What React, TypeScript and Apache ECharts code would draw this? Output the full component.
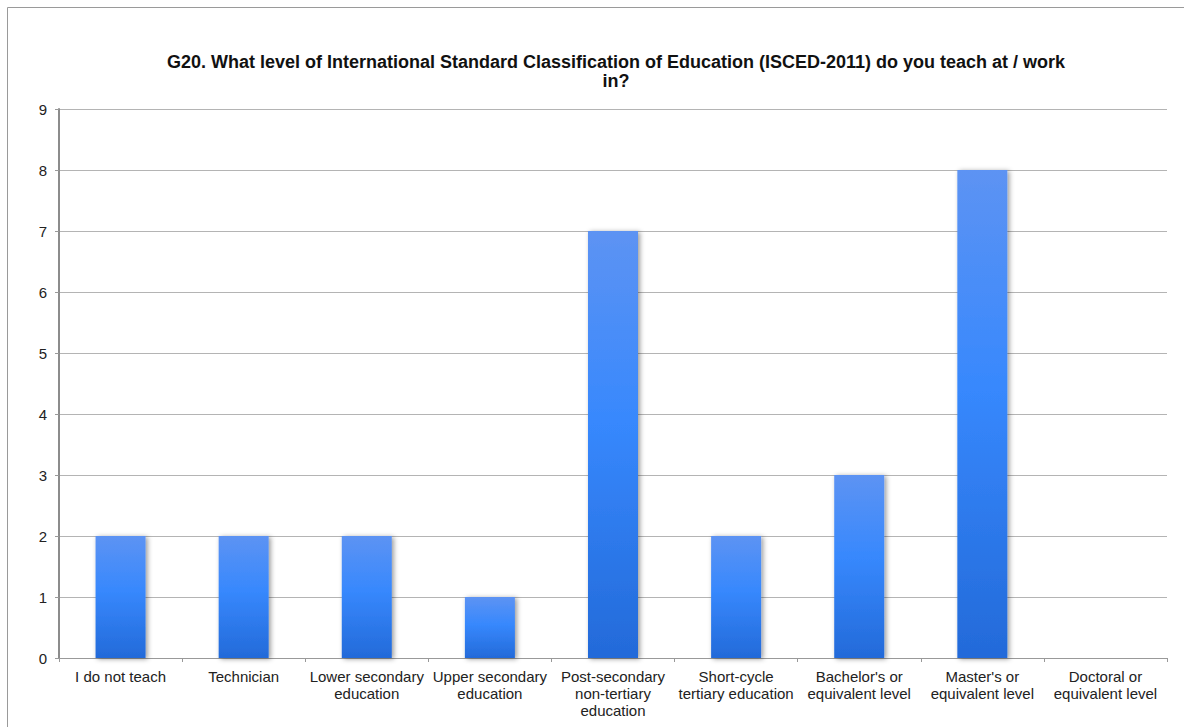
import React, { useEffect, useRef } from "react";
import * as echarts from "echarts";

// Survey question G20: respondents per ISCED-2011 level
const categories: string[] = [
  "I do not teach",
  "Technician",
  "Lower secondary\neducation",
  "Upper secondary\neducation",
  "Post-secondary\nnon-tertiary\neducation",
  "Short-cycle\ntertiary education",
  "Bachelor's or\nequivalent level",
  "Master's or\nequivalent level",
  "Doctoral or\nequivalent level",
];
const counts: number[] = [2, 2, 2, 1, 7, 2, 3, 8, 0];
const yTicks: number[] = [0, 1, 2, 3, 4, 5, 6, 7, 8, 9];

const titleText =
  "G20. What level of International Standard Classification of Education (ISCED-2011) do you teach at / work\nin?";

const FONT = "'Liberation Sans', Arial, sans-serif";

export default function App() {
  const ref = useRef<HTMLDivElement>(null);

  useEffect(() => {
    if (!ref.current) return;
    const chart = echarts.init(ref.current, undefined, { renderer: "svg" });
    const barGradient = new echarts.graphic.LinearGradient(0, 0, 0, 1, [
      { offset: 0, color: "#5d93f3" },
      { offset: 0.45, color: "#3788fd" },
      { offset: 1, color: "#236ad9" },
    ]);
    chart.setOption({
      animation: false,
      backgroundColor: "#ffffff",
      textStyle: { fontFamily: FONT },
      title: {
        text: titleText,
        left: 611,
        top: 47,
        textAlign: "center",
        textStyle: {
          fontFamily: FONT,
          fontSize: 18,
          fontWeight: "bold",
          color: "#111111",
          lineHeight: 19,
        },
      },
      graphic: [
        {
          type: "polyline",
          shape: {
            points: [
              [7.5, 740],
              [7.5, 7.5],
              [1200, 7.5],
            ],
          },
          style: { stroke: "#9a9a9a", lineWidth: 1, fill: "none" },
          silent: true,
        },
      ],
      grid: { left: 59, right: 17, top: 109, bottom: 69, containLabel: false },
      xAxis: {
        type: "category",
        data: categories,
        axisLine: { show: true, lineStyle: { color: "#999999", width: 1 } },
        axisTick: { show: true, length: 4, lineStyle: { color: "#999999" } },
        axisLabel: {
          interval: 0,
          margin: 10,
          fontFamily: FONT,
          fontSize: 15,
          lineHeight: 17,
          color: "#222222",
        },
        splitLine: { show: false },
      },
      yAxis: {
        type: "value",
        min: yTicks[0],
        max: yTicks[yTicks.length - 1],
        interval: 1,
        axisLine: { show: true, lineStyle: { color: "#8c8c8c", width: 2 } },
        axisTick: { show: true, length: 4, lineStyle: { color: "#999999" } },
        axisLabel: {
          margin: 12,
          fontFamily: FONT,
          fontSize: 15,
          color: "#222222",
        },
        splitLine: { show: true, lineStyle: { color: "#b4b4b4", width: 1 } },
      },
      series: [
        {
          type: "bar",
          data: counts,
          barWidth: 50,
          itemStyle: {
            color: barGradient,
            shadowColor: "rgba(0,0,0,0.4)",
            shadowBlur: 5,
            shadowOffsetX: 2,
            shadowOffsetY: 1,
          },
        },
      ],
    });
    return () => chart.dispose();
  }, []);

  return (
    <div
      ref={ref}
      style={{ position: "fixed", left: 0, top: 0, width: 1184, height: 727 }}
    />
  );
}
